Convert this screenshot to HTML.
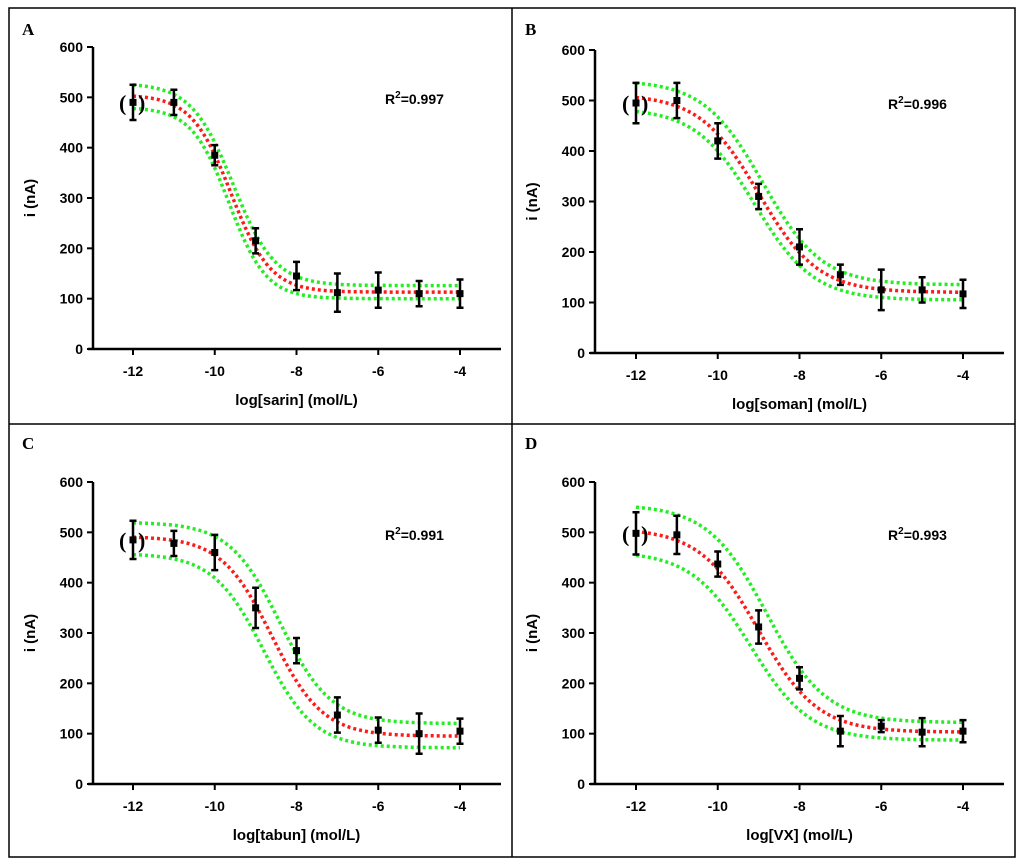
<!DOCTYPE html>
<html><head><meta charset="utf-8">
<style>
html,body{margin:0;padding:0;background:#fff;}
svg{display:block;font-family:"Liberation Sans",Arial,sans-serif;}
</style></head>
<body>
<svg id="fig" width="1024" height="866" viewBox="0 0 1024 866" xmlns="http://www.w3.org/2000/svg">
<rect x="9" y="8" width="1006" height="849" fill="#fff" stroke="#000" stroke-width="1.5"/>
<line x1="512" y1="8" x2="512" y2="857" stroke="#000" stroke-width="1.5"/>
<line x1="9" y1="424" x2="1015" y2="424" stroke="#000" stroke-width="1.5"/>
</svg>
<script>
// Shared x categories (log concentration)
const xCats = [-12, -11, -10, -9, -8, -7, -6, -5, -4];
const xTicks = [-12, -10, -8, -6, -4];
const yTicks = [0, 100, 200, 300, 400, 500, 600];

// Panel A: sarin
const meanA = [490, 490, 385, 215, 145, 112, 117, 110, 110];
const errA  = [35, 25, 20, 25, 28, 38, 35, 25, 28];
const fitA  = [505, 113, -9.6, 0.9];   // top, bottom, logEC50, hill
const upA   = [528, 126, -9.55, 0.85];
const loA   = [480, 100, -9.65, 0.95];
// Panel B: soman
const meanB = [495, 500, 420, 310, 210, 155, 125, 125, 117];
const errB  = [40, 35, 35, 25, 35, 20, 40, 25, 28];
const fitB  = [512, 120, -9.0, 0.6];
const upB   = [540, 135, -8.9, 0.6];
const loB   = [485, 105, -9.1, 0.6];
// Panel C: tabun
const meanC = [485, 478, 460, 350, 265, 137, 107, 100, 105];
const errC  = [38, 25, 35, 40, 25, 35, 25, 40, 25];
const fitC  = [492, 95, -8.6, 0.7];
const upC   = [520, 120, -8.4, 0.7];
const loC   = [458, 72, -8.8, 0.7];
// Panel D: VX
const meanD = [498, 495, 437, 312, 210, 105, 115, 103, 105];
const errD  = [42, 38, 25, 33, 22, 30, 12, 28, 22];
const fitD  = [508, 103, -9.0, 0.6];
const upD   = [555, 122, -8.8, 0.6];
const loD   = [462, 87, -9.2, 0.6];

const panels = [
  {id:'a', letter:'A', label:'log[sarin] (mol/L)', r2:'0.997', mean:meanA, err:errA, fit:fitA, up:upA, lo:loA, ox:93, y0:349, y600:47, xl:133, xr:460, axEnd:501, lx:22, ly:35, r2x:385, r2y:104},
  {id:'b', letter:'B', label:'log[soman] (mol/L)', r2:'0.996', mean:meanB, err:errB, fit:fitB, up:upB, lo:loB, ox:595, y0:353, y600:50, xl:636, xr:963, axEnd:1004, lx:525, ly:35, r2x:888, r2y:109},
  {id:'c', letter:'C', label:'log[tabun] (mol/L)', r2:'0.991', mean:meanC, err:errC, fit:fitC, up:upC, lo:loC, ox:93, y0:784, y600:482, xl:133, xr:460, axEnd:501, lx:22, ly:449, r2x:385, r2y:540},
  {id:'d', letter:'D', label:'log[VX] (mol/L)', r2:'0.993', mean:meanD, err:errD, fit:fitD, up:upD, lo:loD, ox:595, y0:784, y600:482, xl:636, xr:963, axEnd:1004, lx:525, ly:449, r2x:888, r2y:540}
];

const NS = 'http://www.w3.org/2000/svg';
const svg = document.getElementById('fig');
function mk(tag, attrs, parent){
  const e = document.createElementNS(NS, tag);
  for (const k in attrs) e.setAttribute(k, attrs[k]);
  parent.appendChild(e);
  return e;
}
function logistic(p, x){ return p[1] + (p[0]-p[1])/(1+Math.pow(10,(x-p[2])*p[3])); }

panels.forEach(P => {
  const g = mk('g', {}, svg);
  
  
  const sx = v => P.xl + (v - (-12)) * (P.xr - P.xl) / 8;
  const sy = v => P.y0 - v * (P.y0 - P.y600) / 600;

  const lt = mk('text', {x:P.lx, y:P.ly, 'font-family':'"Liberation Serif",serif', 'font-weight':'bold', 'font-size':17}, g);
  lt.textContent = P.letter;
  
  

  // axes
  const ya = mk('line', {x1:P.ox, y1:P.y600, x2:P.ox, y2:P.y0+1, stroke:'#000', 'stroke-width':2.5}, g);
  
  
  const xa = mk('line', {x1:P.ox-5, y1:P.y0, x2:P.axEnd, y2:P.y0, stroke:'#000', 'stroke-width':2.5}, g);
  
  

  yTicks.forEach(t => {
    const y = sy(t);
    const tk = mk('line', {x1:P.ox-6, y1:y, x2:P.ox, y2:y, stroke:'#000', 'stroke-width':2}, g);
    
    
    const tl = mk('text', {x:P.ox-10, y:y+5, 'text-anchor':'end', 'font-weight':'bold', 'font-size':14}, g);
    tl.textContent = t;
    
    
  });
  xTicks.forEach(t => {
    const x = sx(t);
    const tk = mk('line', {x1:x, y1:P.y0, x2:x, y2:P.y0+6, stroke:'#000', 'stroke-width':2}, g);
    
    
    const tl = mk('text', {x:x, y:P.y0+27, 'text-anchor':'middle', 'font-weight':'bold', 'font-size':14}, g);
    tl.textContent = t;
    
    
  });
  const xt = mk('text', {x:(P.xl+P.xr)/2, y:P.y0+56, 'text-anchor':'middle', 'font-weight':'bold', 'font-size':15}, g);
  xt.textContent = P.label;
  
  
  const yc = (P.y0+P.y600)/2;
  const yt = mk('text', {x:0, y:0, transform:`translate(${P.ox-58},${yc}) rotate(-90)`, 'text-anchor':'middle', 'font-weight':'bold', 'font-size':15}, g);
  yt.textContent = 'i (nA)';
  
  

  const r2 = mk('text', {x:P.r2x, y:P.r2y, 'font-weight':'bold', 'font-size':14}, g);
  r2.innerHTML = 'R<tspan dy="-6" font-size="10">2</tspan><tspan dy="6">=' + P.r2 + '</tspan>';
  
  

  // curves
  const curve = (p, color, name) => {
    let d = '';
    for (let i = 0; i <= 160; i++) {
      const x = -12 + i * 8 / 160;
      d += (i ? 'L' : 'M') + sx(x).toFixed(1) + ',' + sy(logistic(p, x)).toFixed(1);
    }
    const c = mk('path', {d:d, fill:'none', stroke:color, 'stroke-width':3.5, 'stroke-dasharray':'3 3'}, g);
    
    
  };
  curve(P.up, '#22ee22', 'upper-confidence-band');
  curve(P.lo, '#22ee22', 'lower-confidence-band');
  curve(P.fit, '#ff1a1a', 'fit-curve');

  // data points
  xCats.forEach((xv, i) => {
    const x = sx(xv), y = sy(P.mean[i]);
    const yTop = sy(P.mean[i] + P.err[i]), yBot = sy(P.mean[i] - P.err[i]);
    const eb = mk('path', {d:`M${x},${yTop}V${yBot}M${x-3.5},${yTop}H${x+3.5}M${x-3.5},${yBot}H${x+3.5}`, stroke:'#000', 'stroke-width':2.5, fill:'none'}, g);
    
    
    const pt = mk('rect', {x:x-3.5, y:y-3.5, width:7, height:7, fill:'#000'}, g);
    
    
  });
  // parentheses around first point
  const px = sx(xCats[0]), py = sy(P.mean[0]);
  const pl = mk('text', {x:px-14, y:py+8, 'font-family':'"Liberation Serif",serif', 'font-weight':'bold', 'font-size':22}, g);
  pl.textContent = '(';
  
  
  const pr = mk('text', {x:px+5, y:py+8, 'font-family':'"Liberation Serif",serif', 'font-weight':'bold', 'font-size':22}, g);
  pr.textContent = ')';
  
  
});
</script>
</body></html>
